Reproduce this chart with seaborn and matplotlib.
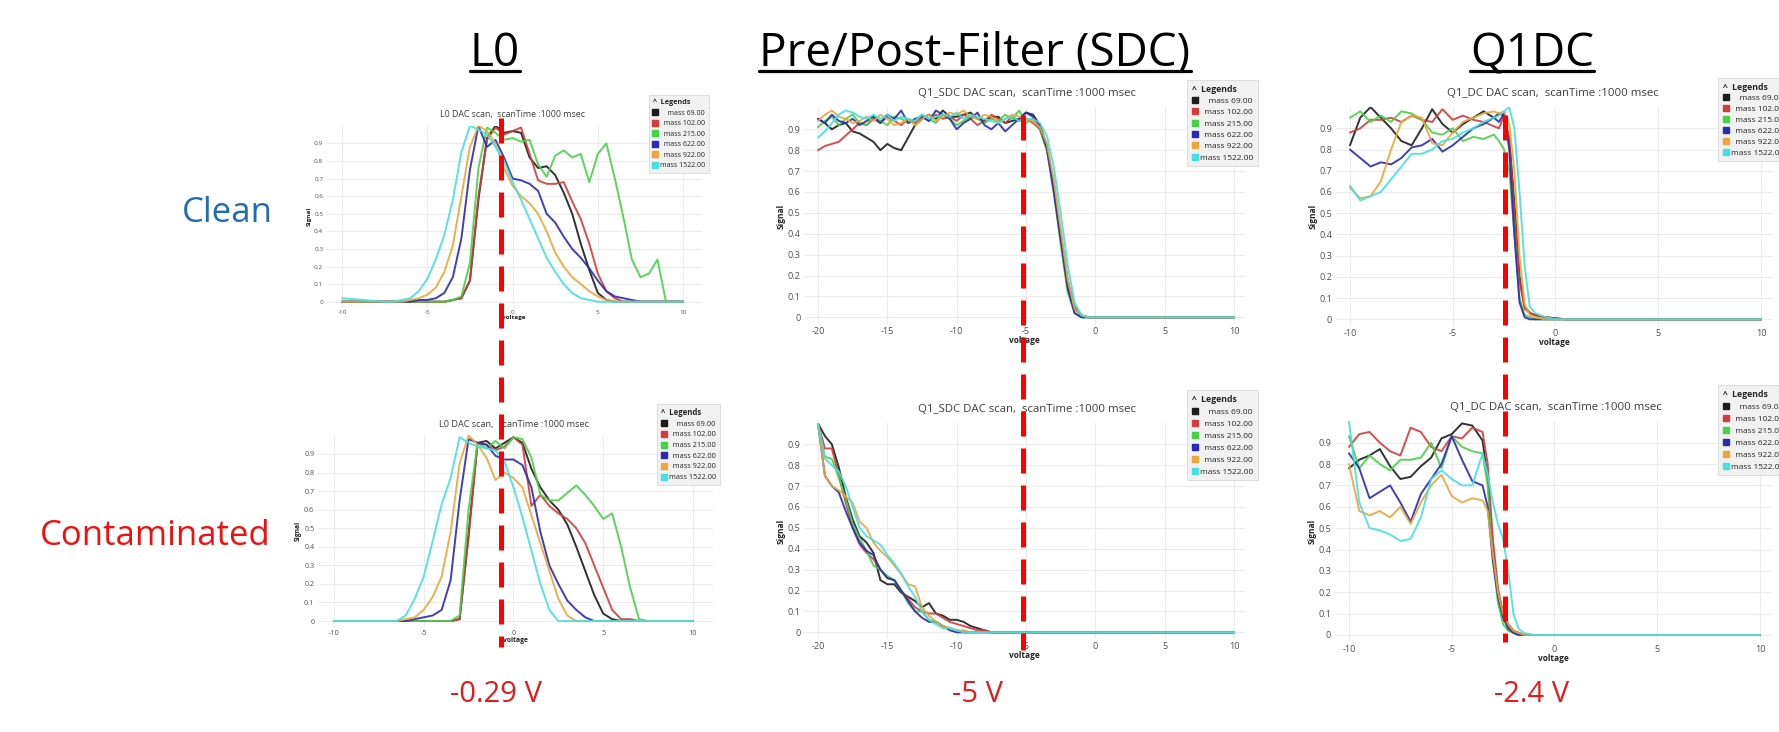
import numpy as np
import pandas as pd
import matplotlib
matplotlib.use("Agg")
import matplotlib.pyplot as plt
import seaborn as sns
from matplotlib.lines import Line2D

# ---------------- data ----------------
MASSES = ["mass 69.00", "mass 102.00", "mass 215.00", "mass 622.00", "mass 922.00", "mass 1522.00"]
LEGEND_LABELS = ["    mass 69.00", "  mass 102.00", "  mass 215.00", "  mass 622.00", "  mass 922.00", "mass 1522.00"]
COLORS = ["#1c1c1c", "#d43b3b", "#45d245", "#2a2ab6", "#eca63a", "#45e0e0"]

COLUMN_TITLES = ["L0", "Pre/Post-Filter (SDC)", "Q1DC"]
ROW_LABELS = ["Clean", "Contaminated"]
SETPOINT_LABELS = ["-0.29 V", "-5 V", "-2.4 V"]
SETPOINT_V = [-0.68, -5.22, -2.46]   # where the red dashed marker sits on each voltage axis
PLOT_TITLES = ["L0 DAC scan,  scanTime :1000 msec",
               "Q1_SDC DAC scan,  scanTime :1000 msec",
               "Q1_DC DAC scan,  scanTime :1000 msec"]

# L0 scans
L0_V = [-10, -7.5, -7, -6.5, -6, -5.5, -5, -4.5, -4, -3.5, -3, -2.5, -2, -1.5, -1, -0.5, 0, 0.5, 1,
        1.5, 2, 2.5, 3, 3.5, 4, 4.5, 5, 5.5, 6, 6.5, 7, 7.5, 8, 8.5, 9, 9.5, 10]
L0_CLEAN = [
    [0, 0, 0, 0, 0, 0, 0, 0, 0, 0.01, 0.02, 0.12, 0.58, 0.93, 1.0, 0.96, 0.97, 0.96, 0.82,
     0.76, 0.77, 0.72, 0.62, 0.5, 0.33, 0.18, 0.05, 0.01, 0, 0, 0, 0, 0, 0, 0, 0, 0],
    [0, 0, 0, 0, 0, 0, 0, 0, 0, 0.01, 0.02, 0.12, 0.6, 0.92, 0.99, 0.95, 0.97, 0.99, 0.84,
     0.69, 0.67, 0.67, 0.68, 0.57, 0.47, 0.33, 0.16, 0.06, 0.02, 0, 0, 0, 0, 0, 0, 0, 0],
    [0, 0, 0, 0, 0, 0, 0, 0, 0, 0.01, 0.03, 0.22, 0.76, 0.99, 0.96, 0.92, 0.93, 0.91, 0.92,
     0.78, 0.71, 0.83, 0.86, 0.82, 0.84, 0.68, 0.84, 0.9, 0.7, 0.48, 0.24, 0.14, 0.16, 0.24, 0, 0, 0],
    [0, 0, 0, 0, 0, 0.01, 0.01, 0.02, 0.05, 0.14, 0.36, 0.75, 1.0, 0.88, 0.92, 0.82, 0.7, 0.69, 0.67,
     0.63, 0.5, 0.45, 0.37, 0.3, 0.25, 0.19, 0.12, 0.06, 0.03, 0.02, 0.01, 0, 0, 0, 0, 0, 0],
    [0, 0, 0, 0, 0.01, 0.02, 0.04, 0.08, 0.17, 0.32, 0.6, 0.88, 1.0, 0.97, 0.9, 0.76, 0.66, 0.6, 0.56,
     0.5, 0.4, 0.28, 0.2, 0.14, 0.1, 0.06, 0.03, 0.01, 0, 0, 0, 0, 0, 0, 0, 0, 0],
    [0.02, 0, 0, 0.01, 0.02, 0.06, 0.13, 0.24, 0.38, 0.58, 0.85, 1.0, 0.98, 0.95, 0.88, 0.8, 0.68, 0.58, 0.47,
     0.36, 0.25, 0.17, 0.1, 0.05, 0.02, 0.01, 0, 0, 0, 0, 0, 0, 0, 0, 0, 0, 0],
]
L0_CONTAM = [
    [0, 0, 0, 0, 0, 0, 0, 0, 0, 0, 0.01, 0.47, 0.96, 0.97, 0.93, 0.96, 0.99, 0.96, 0.82,
     0.72, 0.65, 0.6, 0.52, 0.4, 0.27, 0.14, 0.04, 0.01, 0, 0, 0, 0, 0, 0, 0, 0, 0],
    [0, 0, 0, 0, 0, 0, 0, 0, 0, 0, 0.01, 0.45, 0.96, 0.95, 0.92, 0.94, 0.99, 0.95, 0.62,
     0.68, 0.62, 0.58, 0.55, 0.5, 0.42, 0.3, 0.18, 0.06, 0.01, 0.01, 0, 0, 0, 0, 0, 0, 0],
    [0, 0, 0, 0, 0, 0, 0, 0, 0, 0, 0.03, 0.6, 0.96, 0.93, 0.97, 0.93, 0.99, 0.98, 0.88,
     0.68, 0.65, 0.65, 0.69, 0.73, 0.68, 0.62, 0.55, 0.58, 0.4, 0.18, 0.01, 0, 0, 0, 0, 0, 0],
    [0, 0, 0, 0, 0, 0.01, 0.02, 0.03, 0.06, 0.22, 0.65, 0.98, 0.96, 0.95, 0.89, 0.87, 0.87, 0.84, 0.72,
     0.48, 0.3, 0.2, 0.11, 0.06, 0.02, 0, 0, 0, 0, 0, 0, 0, 0, 0, 0, 0, 0],
    [0, 0, 0, 0, 0.01, 0.02, 0.06, 0.13, 0.24, 0.48, 0.85, 1.0, 0.95, 0.88, 0.76, 0.8, 0.77, 0.72, 0.57,
     0.42, 0.27, 0.12, 0.03, 0, 0, 0, 0, 0, 0, 0, 0, 0, 0, 0, 0, 0, 0],
    [0, 0, 0, 0, 0.03, 0.12, 0.24, 0.43, 0.63, 0.77, 0.99, 0.96, 0.94, 0.93, 0.92, 0.86, 0.72, 0.56, 0.38,
     0.2, 0.06, 0, 0, 0, 0, 0, 0, 0, 0, 0, 0, 0, 0, 0, 0, 0, 0],
]

# Q1 SDC scans
SDC_V_CLEAN = [-20, -19.5, -19, -18.5, -18, -17.5, -17, -16.5, -16, -15.5, -15, -14.5, -14, -13.5,
               -13, -12.5, -12, -11.5, -11, -10.5, -10, -9.5, -9, -8.5, -8, -7.5, -7, -6.5, -6,
               -5.5, -5, -4.5, -4, -3.5, -3, -2.5, -2, -1.5, -1, -0.5, 0, 10]
SDC_CLEAN = [
    [0.95, 0.93, 0.9, 0.92, 0.93, 0.89, 0.88, 0.86, 0.84, 0.8, 0.83, 0.81, 0.8, 0.86, 0.92, 0.95, 0.97,
     0.95, 0.99, 0.96, 0.96, 0.97, 0.98, 0.95, 0.94, 0.96, 0.96, 0.93, 0.94, 0.95, 0.98, 0.97, 0.92,
     0.82, 0.62, 0.38, 0.15, 0.04, 0.01, 0.0, 0.0, 0.0],
    [0.8, 0.82, 0.83, 0.84, 0.87, 0.9, 0.93, 0.92, 0.95, 0.93, 0.96, 0.94, 0.92, 0.95, 0.93, 0.96, 0.94,
     0.97, 0.95, 0.96, 0.94, 0.97, 0.95, 0.92, 0.94, 0.97, 0.95, 0.93, 0.96, 0.94, 0.95, 0.93, 0.9,
     0.8, 0.64, 0.4, 0.18, 0.05, 0.01, 0.0, 0.0, 0.0],
    [0.91, 0.94, 0.96, 0.92, 0.95, 0.97, 0.93, 0.92, 0.96, 0.94, 0.92, 0.96, 0.95, 0.93, 0.94, 0.97, 0.95,
     0.93, 0.97, 0.95, 0.92, 0.94, 0.96, 0.95, 0.93, 0.95, 0.94, 0.97, 0.95, 0.99, 0.93, 0.95, 0.9,
     0.8, 0.6, 0.35, 0.12, 0.02, 0.0, 0.0, 0.0, 0.0],
    [0.95, 0.93, 0.97, 0.94, 0.93, 0.95, 0.92, 0.94, 0.96, 0.93, 0.97, 0.95, 0.99, 0.93, 0.95, 0.96, 0.94,
     0.99, 0.97, 0.95, 0.9, 0.93, 0.95, 0.98, 0.92, 0.9, 0.93, 0.89, 0.92, 0.95, 0.98, 0.96, 0.91,
     0.81, 0.6, 0.37, 0.14, 0.02, 0.0, 0.0, 0.0, 0.0],
    [0.94, 0.97, 0.99, 0.96, 0.95, 0.93, 0.94, 0.96, 0.94, 0.97, 0.95, 0.92, 0.93, 0.95, 0.92, 0.95, 0.97,
     0.94, 0.96, 0.98, 0.97, 0.99, 0.96, 0.95, 0.97, 0.96, 0.93, 0.95, 0.97, 0.96, 0.95, 0.94, 0.91,
     0.83, 0.66, 0.42, 0.18, 0.04, 0.01, 0.0, 0.0, 0.0],
    [0.86, 0.89, 0.93, 0.97, 0.99, 0.98, 0.96, 0.95, 0.97, 0.95, 0.97, 0.94, 0.96, 0.95, 0.94, 0.97, 0.95,
     0.96, 0.97, 0.96, 0.98, 0.95, 0.97, 0.96, 0.95, 0.94, 0.93, 0.95, 0.96, 0.94, 0.95, 0.95, 0.93,
     0.87, 0.72, 0.5, 0.25, 0.07, 0.01, 0.0, 0.0, 0.0],
]
SDC_V_CONTAM = [-20, -19.5, -19, -18.5, -18, -17.5, -17, -16.5, -16, -15.5, -15, -14.5, -14, -13.5,
                -13, -12.5, -12, -11.5, -11, -10.5, -10, -9.5, -9, -8.5, -8, -7.5, -7, 10]
SDC_CONTAM = [
    [1.0, 0.94, 0.9, 0.79, 0.65, 0.54, 0.46, 0.43, 0.38, 0.25, 0.23, 0.23, 0.19, 0.17, 0.15, 0.12,
     0.14, 0.09, 0.08, 0.06, 0.06, 0.05, 0.03, 0.02, 0.01, 0, 0, 0],
    [1.0, 0.88, 0.88, 0.75, 0.62, 0.5, 0.42, 0.38, 0.35, 0.3, 0.26, 0.25, 0.2, 0.16, 0.12, 0.1,
     0.09, 0.09, 0.07, 0.05, 0.04, 0.03, 0.02, 0.01, 0.01, 0, 0, 0],
    [1.0, 0.84, 0.83, 0.74, 0.64, 0.52, 0.45, 0.39, 0.32, 0.3, 0.27, 0.25, 0.2, 0.14, 0.1, 0.1,
     0.06, 0.05, 0.03, 0.02, 0.01, 0, 0, 0, 0, 0, 0, 0],
    [1.0, 0.75, 0.7, 0.67, 0.58, 0.5, 0.43, 0.39, 0.37, 0.3, 0.26, 0.25, 0.2, 0.15, 0.1, 0.07,
     0.05, 0.05, 0.03, 0.01, 0, 0, 0, 0, 0, 0, 0, 0],
    [1.0, 0.75, 0.7, 0.68, 0.65, 0.62, 0.53, 0.5, 0.43, 0.39, 0.36, 0.32, 0.28, 0.23, 0.22, 0.12,
     0.08, 0.05, 0.03, 0.02, 0.01, 0.01, 0, 0, 0, 0, 0, 0],
    [1.0, 0.83, 0.8, 0.77, 0.7, 0.6, 0.5, 0.46, 0.44, 0.42, 0.37, 0.33, 0.28, 0.22, 0.17, 0.1,
     0.06, 0.04, 0.02, 0.02, 0.01, 0, 0, 0, 0, 0, 0, 0],
]

# Q1 DC scans
DC_V_CLEAN = [-10, -9.5, -9, -8.5, -8, -7.5, -7, -6.5, -6, -5.5, -5, -4.5, -4, -3.5, -3,
              -2.75, -2.5, -2.25, -2, -1.75, -1.5, -1.25, -1, -0.5, 0, 0.5, 10]
DC_CLEAN = [
    [0.82, 0.95, 1.0, 0.95, 0.9, 0.84, 0.82, 0.9, 0.99, 0.92, 0.88, 0.92, 0.95, 0.98, 0.95,
     0.97, 0.96, 0.85, 0.55, 0.2, 0.06, 0.03, 0.02, 0.01, 0.005, 0, 0],
    [0.88, 0.9, 0.94, 0.94, 0.95, 0.93, 0.96, 0.94, 0.93, 0.99, 0.94, 0.96, 0.94, 0.93, 0.91,
     0.9, 0.96, 0.85, 0.5, 0.18, 0.05, 0.03, 0.02, 0.01, 0.005, 0, 0],
    [0.95, 0.98, 0.93, 0.96, 0.93, 0.98, 0.97, 0.94, 0.88, 0.87, 0.9, 0.84, 0.86, 0.85, 0.87,
     0.84, 0.8, 0.7, 0.4, 0.1, 0.02, 0.01, 0, 0, 0, 0, 0],
    [0.8, 0.76, 0.72, 0.74, 0.73, 0.76, 0.81, 0.82, 0.85, 0.79, 0.82, 0.86, 0.9, 0.92, 0.95,
     0.93, 0.97, 0.8, 0.4, 0.08, 0.01, 0, 0, 0, 0, 0, 0],
    [0.62, 0.57, 0.58, 0.65, 0.8, 0.93, 0.96, 0.95, 0.83, 0.82, 0.88, 0.93, 0.95, 0.97, 0.98,
     0.97, 0.98, 0.92, 0.7, 0.3, 0.07, 0.02, 0.01, 0, 0, 0, 0],
    [0.63, 0.56, 0.58, 0.6, 0.66, 0.72, 0.78, 0.78, 0.8, 0.84, 0.85, 0.88, 0.9, 0.93, 0.95,
     0.96, 0.98, 1.0, 0.9, 0.6, 0.25, 0.06, 0.03, 0.01, 0, 0, 0],
]
DC_V_CONTAM = [-10, -9.5, -9, -8.5, -8, -7.5, -7, -6.5, -6, -5.5, -5, -4.5, -4, -3.5,
               -3.25, -3, -2.75, -2.5, -2.25, -2, -1.75, -1.5, -1, 10]
DC_CONTAM = [
    [0.78, 0.82, 0.84, 0.87, 0.79, 0.73, 0.74, 0.79, 0.83, 0.92, 0.94, 0.99, 0.98, 0.91,
     0.73, 0.41, 0.2, 0.1, 0.05, 0.02, 0.01, 0, 0, 0],
    [0.88, 0.94, 0.95, 0.9, 0.86, 0.84, 0.97, 0.95, 0.88, 0.86, 0.93, 0.92, 0.97, 0.95,
     0.8, 0.45, 0.22, 0.1, 0.04, 0.02, 0.01, 0, 0, 0],
    [0.93, 0.78, 0.84, 0.8, 0.77, 0.82, 0.82, 0.83, 0.9, 0.78, 0.93, 0.88, 0.86, 0.85,
     0.7, 0.35, 0.15, 0.05, 0.02, 0.01, 0, 0, 0, 0],
    [0.85, 0.78, 0.64, 0.67, 0.7, 0.62, 0.53, 0.66, 0.73, 0.8, 0.93, 0.82, 0.72, 0.7,
     0.6, 0.35, 0.18, 0.08, 0.03, 0.01, 0, 0, 0, 0],
    [0.8, 0.58, 0.56, 0.58, 0.55, 0.6, 0.52, 0.62, 0.7, 0.75, 0.65, 0.62, 0.64, 0.63,
     0.58, 0.38, 0.2, 0.1, 0.05, 0.02, 0.01, 0, 0, 0],
    [1.0, 0.62, 0.5, 0.49, 0.47, 0.44, 0.45, 0.55, 0.73, 0.77, 0.73, 0.7, 0.7, 0.85,
     0.75, 0.62, 0.52, 0.45, 0.3, 0.1, 0.03, 0.01, 0, 0],
]

# ---------------- layout ----------------
W, H = 1779, 732
sns.set_theme(style="whitegrid")
plt.rcParams["font.family"] = ["Open Sans", "DejaVu Sans"]

fig = plt.figure(figsize=(W / 100, H / 100), dpi=100)
fig.patch.set_facecolor("white")


def fx(x):
    return x / W


def fy(y):
    return 1 - y / H


# pixel boxes (left, top, right, bottom) and styling per panel
PANELS = [
    dict(row=0, col=0, v=L0_V, s=L0_CLEAN, box=(326.7, 125.8, 701.8, 307.0), xlim=(-10.9, 11.1),
         xt=[-10, -5, 0, 5, 10], tk=4.6, ttl=6.3, lab=4.6, leg=5.0, ls=0.5, tpos=(513, 114), lpos=(649, 95)),
    dict(row=1, col=0, v=L0_V, s=L0_CONTAM, box=(317.8, 435.4, 712.7, 626.6), xlim=(-10.9, 11.1),
         xt=[-10, -5, 0, 5, 10], tk=5.2, ttl=6.6, lab=4.9, leg=5.3, ls=0.48, tpos=(514, 424), lpos=(657, 404)),
    dict(row=0, col=1, v=SDC_V_CLEAN, s=SDC_CLEAN, box=(804.1, 108.4, 1245.2, 323.6), xlim=(-21, 10.8),
         xt=[-20, -15, -10, -5, 0, 5, 10], tk=6.6, ttl=8.2, lab=6.0, leg=6.0, ls=0.42, tpos=(1027, 94), lpos=(1187, 80)),
    dict(row=1, col=1, v=SDC_V_CONTAM, s=SDC_CONTAM, box=(804.1, 423.4, 1245.2, 638.6), xlim=(-21, 10.8),
         xt=[-20, -15, -10, -5, 0, 5, 10], tk=6.6, ttl=8.2, lab=6.0, leg=6.0, ls=0.5, tpos=(1027, 410), lpos=(1187, 390)),
    dict(row=0, col=2, v=DC_V_CLEAN, s=DC_CLEAN, box=(1335.6, 107.1, 1773.3, 325.7), xlim=(-10.7, 10.6),
         xt=[-10, -5, 0, 5, 10], tk=6.6, ttl=8.2, lab=6.0, leg=6.0, ls=0.36, tpos=(1553, 93), lpos=(1718, 78)),
    dict(row=1, col=2, v=DC_V_CONTAM, s=DC_CONTAM, box=(1334.6, 421.3, 1772.3, 641.4), xlim=(-10.7, 10.6),
         xt=[-10, -5, 0, 5, 10], tk=6.6, ttl=8.2, lab=6.0, leg=6.0, ls=0.5, tpos=(1556, 407), lpos=(1718, 385)),
]

axes = {}
for p in PANELS:
    l, t, r, b = p["box"]
    ax = fig.add_axes([fx(l), fy(b), (r - l) / W, (b - t) / H])
    axes[(p["row"], p["col"])] = ax
    frames = [pd.DataFrame({"voltage": p["v"], "signal": vals, "mass": m})
              for m, vals in zip(MASSES, p["s"])]
    df = pd.concat(frames, ignore_index=True)
    sns.lineplot(data=df, x="voltage", y="signal", hue="mass", hue_order=MASSES,
                 palette=COLORS, estimator=None, sort=False, legend=False,
                 linewidth=1.4, alpha=0.9, ax=ax)
    ax.set_facecolor("white")
    ax.set_xlim(*p["xlim"])
    ax.set_ylim(-0.03, 1.0)
    ax.set_xticks(p["xt"])
    ax.set_xticklabels([str(v) for v in p["xt"]])
    yt = [i / 10 for i in range(10)]
    ax.set_yticks(yt)
    ax.set_yticklabels(["0"] + [f"{v:.1f}" for v in yt[1:]])
    ax.grid(True, color="#ececec", linewidth=0.8)
    for sp in ax.spines.values():
        sp.set_visible(False)
    ax.tick_params(axis="both", length=0, labelsize=p["tk"], colors="#505050", pad=2.5)
    ax.set_xlabel("voltage", fontsize=p["lab"], fontweight="bold", color="#222222", labelpad=0)
    ax.set_ylabel("Signal", fontsize=p["lab"], fontweight="bold", color="#222222", labelpad=1.5)
    fig.text(fx(p["tpos"][0]), fy(p["tpos"][1]), PLOT_TITLES[p["col"]], ha="center", va="center",
             fontsize=p["ttl"], color="#3c3c3c")
    handles = [Line2D([], [], marker="s", linestyle="None", color=c, markersize=p["leg"] * 0.75)
               for c in COLORS]
    leg = fig.legend(handles, LEGEND_LABELS, title="^  Legends", loc="upper left",
                     bbox_to_anchor=(fx(p["lpos"][0]), fy(p["lpos"][1])), bbox_transform=fig.transFigure,
                     fontsize=p["leg"], title_fontproperties={"weight": "bold", "size": p["leg"] * 1.05},
                     frameon=True, fancybox=False, framealpha=1, facecolor="#f1f1f1",
                     edgecolor="#dadada", borderpad=0.55, labelspacing=p["ls"], handletextpad=0.35,
                     handlelength=0.7, borderaxespad=0, alignment="left")
    leg.get_frame().set_linewidth(0.6)

# ---------------- red dashed set-point markers ----------------
DASH_SPAN = [(118, 647), (115, 650), (115, 642)]
for col, v in enumerate(SETPOINT_V):
    ax = axes[(0, col)]
    xd = ax.transData.transform((v, 0))
    xf = fig.transFigure.inverted().transform(xd)[0]
    y0, y1 = DASH_SPAN[col]
    fig.add_artist(Line2D([xf, xf], [fy(y0), fy(y1)], transform=fig.transFigure,
                          color="#ff0000", linewidth=3.6, dashes=(5.0, 2.4), zorder=10))

# ---------------- slide text ----------------
COL_X = [495, 975, 1532]
heads = []
for x, t in zip(COL_X, COLUMN_TITLES):
    heads.append(fig.text(fx(x), fy(66), t, ha="center", va="baseline", fontsize=33, color="black"))

fig.text(fx(273), fy(222), ROW_LABELS[0], ha="right", va="baseline", fontsize=25, color="#1f6db5")
fig.text(fx(271), fy(545), ROW_LABELS[1], ha="right", va="baseline", fontsize=25, color="#ee1111")

SET_X = [496, 978, 1532]
for x, t in zip(SET_X, SETPOINT_LABELS):
    fig.text(fx(x), fy(702), t, ha="center", va="baseline", fontsize=21, color="#e31b1b")

fig.canvas.draw()
inv = fig.transFigure.inverted()
for h in heads:
    bb = h.get_window_extent()
    (x0, _), (x1, _) = inv.transform([(bb.x0, 0), (bb.x1, 0)])
    fig.add_artist(Line2D([x0, x1], [fy(71), fy(71)], transform=fig.transFigure,
                          color="black", linewidth=2.3))

fig.savefig("out.png", dpi=100, facecolor="white")
